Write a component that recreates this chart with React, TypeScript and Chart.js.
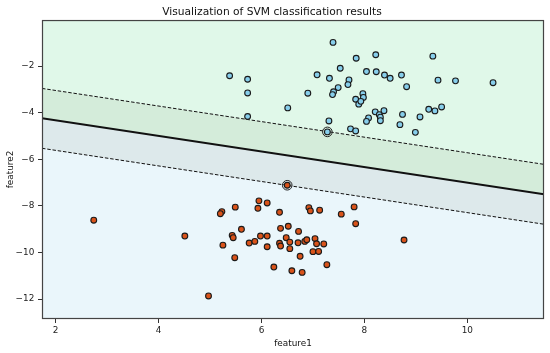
import React, { useEffect, useRef } from 'react';
import { Chart, registerables } from 'chart.js';

Chart.register(...registerables);

const X_MIN = 1.734;
const X_MAX = 11.49;
const Y_MIN = -12.85;
const Y_MAX = -0.02;

const xTicks = [2, 4, 6, 8, 10];
const yTicks = [-12, -10, -8, -6, -4, -2];

const titleText = 'Visualization of SVM classification results';
const xLabel = 'feature1';
const yLabel = 'feature2';

// class 1 (blue, upper cluster)
const blueX = [7.39, 7.84, 7.53, 5.38, 5.73, 7.08, 7.32, 7.70, 7.68, 7.49, 7.40, 7.38, 5.73, 6.90, 7.83, 7.89, 6.51, 5.73, 7.31, 7.73, 7.83, 7.28, 8.22, 9.33, 8.04, 8.23, 8.39, 8.50, 8.72, 8.82, 9.43, 9.77, 10.50, 7.97, 7.98, 7.93, 8.21, 8.29, 8.31, 8.38, 8.31, 8.08, 8.04, 8.74, 9.25, 9.37, 9.50, 9.08, 8.69, 8.99];
const blueY = [-0.98, -1.66, -2.09, -2.41, -2.56, -2.37, -2.52, -2.59, -2.79, -2.92, -3.10, -3.22, -3.15, -3.16, -3.42, -3.63, -3.79, -4.16, -4.35, -4.69, -4.78, -4.82, -1.51, -1.57, -2.23, -2.24, -2.38, -2.52, -2.38, -2.88, -2.60, -2.63, -2.71, -3.18, -3.34, -3.51, -3.96, -4.08, -4.19, -3.91, -4.34, -4.22, -4.37, -4.07, -3.85, -3.92, -3.75, -4.18, -4.51, -4.84];

// class 0 (red, lower cluster)
const redX = [2.74, 4.51, 4.97, 5.23, 5.20, 5.49, 5.61, 5.43, 5.45, 5.25, 5.48, 5.95, 6.11, 5.93, 6.35, 6.92, 6.95, 7.13, 7.55, 7.80, 7.83, 8.77, 6.37, 6.52, 6.72, 5.98, 6.11, 5.76, 5.87, 6.11, 6.35, 6.37, 6.48, 6.55, 6.55, 6.71, 6.84, 6.88, 7.04, 7.07, 7.21, 7.00, 7.11, 6.75, 6.24, 6.59, 6.79, 7.27, 6.50];
const redY = [-8.61, -9.29, -11.86, -8.24, -8.33, -8.05, -9.00, -9.26, -9.36, -9.68, -10.22, -7.78, -7.87, -8.10, -8.27, -8.07, -8.21, -8.18, -8.35, -8.04, -8.76, -9.46, -8.96, -8.87, -9.09, -9.29, -9.29, -9.59, -9.52, -9.75, -9.60, -9.72, -9.36, -9.55, -9.83, -9.58, -9.52, -9.45, -9.40, -9.62, -9.63, -9.96, -9.95, -10.16, -10.62, -10.78, -10.85, -10.52, -7.11];

// support vectors
const svX = [7.28, 6.50];
const svY = [-4.82, -7.11];

// decision boundary y = slope * x + intercept, margins at +/- marginWidth
const boundarySlope = -0.334;
const boundaryIntercept = -3.66;
const marginWidth = 1.285;

const COLOR_TOP = '#e0f8e9';
const COLOR_BAND1 = '#d4ecda';
const COLOR_BAND2 = '#dde9eb';
const COLOR_BOTTOM = '#eaf6fb';

const toPoints = (xs: number[], ys: number[]) => xs.map((x, i) => ({ x, y: ys[i] }));
const lineAt = (offset: number) =>
  [X_MIN, X_MAX].map((x) => ({ x, y: boundarySlope * x + boundaryIntercept + offset }));

const fmt = (v: number) => String(v).replace('-', '\u2212');

const framePlugin = {
  id: 'frame',
  afterDraw(chart: any) {
    const { ctx, chartArea } = chart;
    ctx.save();
    ctx.strokeStyle = '#444';
    ctx.lineWidth = 1.2;
    ctx.strokeRect(chartArea.left + 0.5, chartArea.top + 0.5, chartArea.right - chartArea.left - 1, chartArea.bottom - chartArea.top - 1);
    ctx.restore();
  },
};

export default function App() {
  const ref = useRef<HTMLCanvasElement | null>(null);

  useEffect(() => {
    document.body.style.margin = '0';
    if (!ref.current) return;
    Chart.defaults.font.family = "'DejaVu Sans', sans-serif";
    const lineCommon = { type: 'line' as const, pointRadius: 0, borderColor: '#111', tension: 0, order: 3 };
    const chart = new Chart(ref.current, {
      type: 'scatter',
      data: {
        datasets: [
          { ...lineCommon, data: lineAt(marginWidth), borderWidth: 1, borderDash: [3.5, 1.8], fill: 'end', backgroundColor: COLOR_TOP },
          { ...lineCommon, data: lineAt(0), borderWidth: 2, fill: '-1', backgroundColor: COLOR_BAND1 },
          { ...lineCommon, data: lineAt(-marginWidth), borderWidth: 1, borderDash: [3.5, 1.8], fill: '-1', backgroundColor: COLOR_BAND2 },
          { ...lineCommon, data: lineAt(-marginWidth), borderWidth: 0, borderColor: 'rgba(0,0,0,0)', fill: 'start', backgroundColor: COLOR_BOTTOM, order: 4 },
          { type: 'scatter', data: toPoints(redX, redY), backgroundColor: '#d9531a', borderColor: '#1a1a1a', borderWidth: 1.1, pointRadius: 2.9, order: 2 },
          { type: 'scatter', data: toPoints(blueX, blueY), backgroundColor: '#87ceeb', borderColor: '#1a1a1a', borderWidth: 1.1, pointRadius: 2.9, order: 2 },
          { type: 'scatter', data: toPoints(svX, svY), backgroundColor: 'rgba(0,0,0,0)', borderColor: '#222', borderWidth: 1, pointRadius: 4.8, order: 1 },
        ] as any,
      },
      options: {
        animation: false,
        responsive: true,
        maintainAspectRatio: false,
        layout: { padding: { right: 6, left: 0, top: 0, bottom: 0 } },
        plugins: {
          legend: { display: false },
          tooltip: { enabled: false },
          filler: { drawTime: 'beforeDatasetsDraw' },
          title: {
            display: true,
            text: titleText,
            color: '#111',
            font: { size: 10.7, weight: 'normal' },
            padding: { top: 5.5, bottom: 1.7 },
          },
        } as any,
        scales: {
          x: {
            type: 'linear',
            min: X_MIN,
            max: X_MAX,
            afterBuildTicks: (axis: any) => { axis.ticks = xTicks.map((v) => ({ value: v })); },
            afterFit: (axis: any) => { axis.height = 34; },
            ticks: { color: '#222', font: { size: 8.9 }, padding: 2.5, callback: (v: any) => fmt(v), maxRotation: 0, autoSkip: false },
            grid: { drawOnChartArea: false, drawTicks: true, tickLength: 4, color: '#333' },
            border: { display: false },
            title: { display: true, text: xLabel, color: '#111', font: { size: 8.9 }, padding: { top: 0, bottom: 3.7 } },
          },
          y: {
            type: 'linear',
            min: Y_MIN,
            max: Y_MAX,
            afterBuildTicks: (axis: any) => { axis.ticks = yTicks.map((v) => ({ value: v })); },
            afterFit: (axis: any) => { axis.width = 42; },
            ticks: { color: '#222', font: { size: 8.9 }, padding: 3.7, callback: (v: any) => fmt(v), autoSkip: false },
            grid: { drawOnChartArea: false, drawTicks: true, tickLength: 4, color: '#333' },
            border: { display: false },
            title: { display: true, text: yLabel, color: '#111', font: { size: 8.9 }, padding: { top: 5, bottom: 0 } },
          },
        },
      } as any,
      plugins: [framePlugin],
    });
    return () => chart.destroy();
  }, []);

  return (
    <div style={{ position: 'relative', width: 550, height: 353 }}>
      <canvas ref={ref} />
    </div>
  );
}
